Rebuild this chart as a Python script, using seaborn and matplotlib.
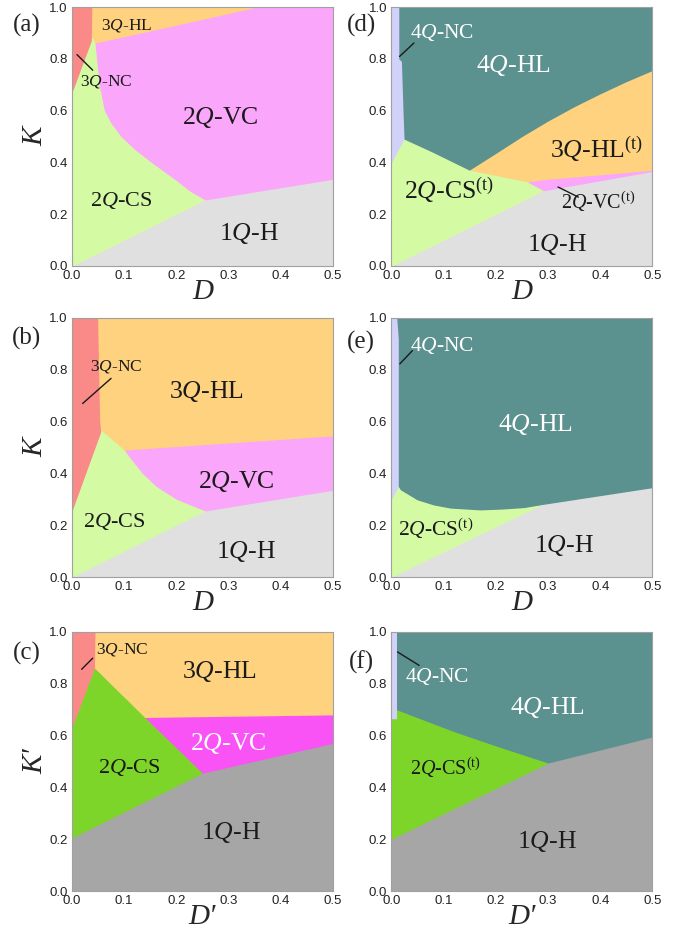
import numpy as np
import matplotlib.pyplot as plt
import seaborn as sns

sns.set_theme(style="ticks")
plt.rcParams["font.family"] = ["Liberation Sans", "DejaVu Sans"]
plt.rcParams["mathtext.fontset"] = "custom"
plt.rcParams["mathtext.rm"] = "Liberation Serif"
plt.rcParams["mathtext.it"] = "Liberation Serif:italic"

SERIF = ["Liberation Serif", "DejaVu Serif"]

# phase colours
c_h = "#e0e0e0"      # 1Q-H
c_cs = "#d4fba4"     # 2Q-CS
c_vc = "#faa6fa"     # 2Q-VC
c_hl = "#fed27f"     # 3Q-HL
c_nc = "#f98a88"     # 3Q-NC
c_4hl = "#5b918e"    # 4Q-HL
c_4nc = "#d1d1f9"    # 4Q-NC
c_h2 = "#a6a6a6"     # 1Q-H (primed model)
c_cs2 = "#7ed52a"    # 2Q-CS (primed model)
c_vc2 = "#f953f5"    # 2Q-VC (primed model)

# ---- phase boundaries ----
# (a)
a_h_D = [0.0, 0.255, 0.5]
a_h_K = [0.0, 0.255, 0.335]
a_hl_D = [0.042, 0.20, 0.355]
a_hl_K = [0.86, 0.93, 1.0]
a_cs_K = [0.0, 0.255, 0.29, 0.33, 0.40, 0.45, 0.50, 0.55, 0.60, 0.70, 0.80, 0.86, 0.88]
a_cs_D = [0.255, 0.255, 0.225, 0.200, 0.152, 0.120, 0.094, 0.075, 0.062, 0.052, 0.047, 0.044, 0.040]
a_nc_K = [0.67, 0.87, 1.0]
a_nc_D = [0.0, 0.037, 0.038]

# (b)
b_h_D = [0.0, 0.255, 0.5]
b_h_K = [0.0, 0.255, 0.335]
b_vc_D = [0.10, 0.5]
b_vc_K = [0.49, 0.545]
b_cs_K = [0.0, 0.255, 0.30, 0.35, 0.40, 0.45, 0.49, 0.565]
b_cs_D = [0.255, 0.255, 0.200, 0.161, 0.135, 0.115, 0.100, 0.057]
b_nc_K = [0.255, 0.56, 0.60, 1.0]
b_nc_D = [0.0, 0.055, 0.053, 0.049]

# (c)
c_h_D = [0.0, 0.25, 0.5]
c_h_K = [0.205, 0.455, 0.57]
c_vc_D = [0.14, 0.5]
c_vc_K = [0.67, 0.68]
c_cs_K = [0.0, 0.455, 0.667, 0.861]
c_cs_D = [0.25, 0.25, 0.141, 0.043]
c_nc_K = [0.63, 0.861, 1.0]
c_nc_D = [0.0, 0.043, 0.044]

# (d)
d_h_D = [0.0, 0.29, 0.5]
d_h_K = [0.0, 0.29, 0.365]
d_hl_D = [0.149, 0.20, 0.25, 0.30, 0.35, 0.40, 0.45, 0.5]
d_hl_K = [0.37, 0.435, 0.50, 0.56, 0.615, 0.665, 0.712, 0.755]
d_vc_D = [0.26, 0.30, 0.40, 0.5]
d_vc_K = [0.325, 0.335, 0.352, 0.37]
d_cs_K = [0.0, 0.292, 0.325, 0.37, 0.44, 0.49]
d_cs_D = [0.29, 0.29, 0.26, 0.149, 0.078, 0.024]
d_nc_K = [0.40, 0.49, 0.60, 0.79, 0.80, 1.0]
d_nc_D = [0.0, 0.024, 0.022, 0.019, 0.014, 0.014]

# (e)
e_h_D = [0.0, 0.289, 0.5]
e_h_K = [0.0, 0.28, 0.345]
e_cs_D = [0.0, 0.013, 0.017, 0.049, 0.081, 0.113, 0.17, 0.209, 0.254, 0.289]
e_cs_K = [0.35, 0.35, 0.337, 0.298, 0.278, 0.266, 0.259, 0.262, 0.268, 0.28]
e_nc_K = [0.30, 0.35, 0.92, 1.0]
e_nc_D = [0.0, 0.013, 0.013, 0.010]

# (f)
f_h_D = [0.0, 0.3, 0.5]
f_h_K = [0.2, 0.494, 0.595]
f_cs_D = [0.0, 0.0096, 0.12, 0.20, 0.30]
f_cs_K = [0.70, 0.70, 0.615, 0.56, 0.494]
f_nc_K = [0.665, 1.0]
f_nc_D = [0.0096, 0.0096]

# ---- labels: (text, D, K, size, colour) ----
a_labels = [("3$Q$-HL", 0.105, 0.93, 12.5, "k"), ("3$Q$-NC", 0.066, 0.713, 12.5, "k"),
            ("2$Q$-VC", 0.284, 0.575, 18.5, "k"), ("2$Q$-CS", 0.094, 0.254, 16, "k"),
            ("1$Q$-H", 0.339, 0.125, 18.5, "k")]
b_labels = [("3$Q$-NC", 0.0845, 0.812, 12.5, "k"), ("3$Q$-HL", 0.257, 0.715, 18.5, "k"),
            ("2$Q$-VC", 0.315, 0.367, 18.5, "k"), ("2$Q$-CS", 0.081, 0.213, 16, "k"),
            ("1$Q$-H", 0.334, 0.097, 18.5, "k")]
c_labels = [("3$Q$-NC", 0.096, 0.931, 12.5, "k"), ("3$Q$-HL", 0.282, 0.847, 18.5, "k"),
            ("2$Q$-VC", 0.30, 0.571, 18.5, "white"), ("2$Q$-CS", 0.11, 0.475, 16, "k"),
            ("1$Q$-H", 0.304, 0.225, 18.5, "k")]
d_labels = [("4$Q$-NC", 0.0976, 0.903, 15.5, "white"), ("4$Q$-HL", 0.2326, 0.773, 18.5, "white"),
            ("3$Q$-HL$^{\\mathrm{(t)}}$", 0.393, 0.448, 18.5, "k"),
            ("2$Q$-CS$^{\\mathrm{(t)}}$", 0.11, 0.292, 18.5, "k"),
            ("2$Q$-VC$^{\\mathrm{(t)}}$", 0.396, 0.247, 14.5, "k"),
            ("1$Q$-H", 0.316, 0.084, 18.5, "k")]
e_labels = [("4$Q$-NC", 0.097, 0.894, 15.5, "white"), ("4$Q$-HL", 0.276, 0.589, 18.5, "white"),
            ("2$Q$-CS$^{\\mathrm{(t)}}$", 0.084, 0.188, 15.5, "k"),
            ("1$Q$-H", 0.33, 0.123, 18.5, "k")]
f_labels = [("4$Q$-NC", 0.0867, 0.83, 15.5, "white"), ("4$Q$-HL", 0.2985, 0.707, 18.5, "white"),
            ("2$Q$-CS$^{\\mathrm{(t)}}$", 0.104, 0.475, 14.5, "k"),
            ("1$Q$-H", 0.2985, 0.191, 18.5, "k")]

# leader lines ((D1, D2), (K1, K2))
a_lead = ([0.0096, 0.0397], [0.816, 0.756])
b_lead = ([0.0204, 0.0749], [0.670, 0.767])
c_lead = ([0.0185, 0.0397], [0.856, 0.899])
d_lead = [([0.0154, 0.043], [0.809, 0.861]), ([0.319, 0.358], [0.305, 0.266])]
e_lead = ([0.016, 0.040], [0.823, 0.874])
f_lead = ([0.0115, 0.053], [0.923, 0.871])


def fill_below(ax, D, K, color, lo=0.0, hi=0.5):
    x = np.linspace(lo, hi, 600)
    ax.fill_between(x, 0, np.minimum(np.interp(x, D, K), 1.0), color=color, lw=0)


def fill_left(ax, K, D, color, lo, hi):
    y = np.linspace(lo, hi, 600)
    ax.fill_betweenx(y, 0, np.interp(y, K, D), color=color, lw=0)


def style(ax, xlab, ylab, tag, tag_xy):
    ax.set_xlim(0, 0.5)
    ax.set_ylim(0, 1)
    ax.set_xticks(np.arange(0, 0.51, 0.1))
    ax.set_yticks(np.arange(0, 1.01, 0.2))
    ax.set_xticklabels([f"{v:.1f}" for v in np.arange(0, 0.51, 0.1)])
    ax.set_yticklabels([f"{v:.1f}" for v in np.arange(0, 1.01, 0.2)])
    ax.tick_params(direction="in", length=3, width=0.7, color="#666666",
                   labelsize=9.5, labelcolor="#222222", top=True, right=True, pad=3)
    for s in ax.spines.values():
        s.set_color("#a0a0a0")
        s.set_linewidth(0.8)
    ax.set_xlabel(xlab, family=SERIF, style="italic", fontsize=21, labelpad=-2)
    if ylab:
        ax.set_ylabel(ylab, family=SERIF, style="italic", fontsize=21, labelpad=1)
    fig.text(tag_xy[0] / 697, 1 - tag_xy[1] / 935, tag, family=SERIF, fontsize=18,
             ha="center", va="center")


def put_labels(ax, labels):
    for txt, x, y, fs, col in labels:
        ax.text(x, y, txt, family=SERIF, fontsize=fs, color=col, ha="center", va="center")


fig = plt.figure(figsize=(6.97, 9.35), dpi=100)
W = 261 / 697
H = 259 / 935
lefts = [72 / 697, 391.5 / 697]
bottoms = [1 - 266 / 935, 1 - 577 / 935, 1 - 891 / 935]
ax_a = fig.add_axes([lefts[0], bottoms[0], W, H])
ax_b = fig.add_axes([lefts[0], bottoms[1], W, H])
ax_c = fig.add_axes([lefts[0], bottoms[2], W, H])
ax_d = fig.add_axes([lefts[1], bottoms[0], W, H])
ax_e = fig.add_axes([lefts[1], bottoms[1], W, H])
ax_f = fig.add_axes([lefts[1], bottoms[2], W, H])

# (a)
ax_a.fill_between([0, 0.5], 0, 1, color=c_hl, lw=0)
fill_below(ax_a, a_hl_D, a_hl_K, c_vc, lo=a_hl_D[0])
fill_left(ax_a, a_cs_K, a_cs_D, c_cs, 0, a_cs_K[-1])
fill_left(ax_a, a_nc_K, a_nc_D, c_nc, a_nc_K[0], 1)
fill_below(ax_a, a_h_D, a_h_K, c_h)
put_labels(ax_a, a_labels)
ax_a.plot(*a_lead, color="k", lw=1)
style(ax_a, "D", "K", "(a)", (27, 25))

# (b)
ax_b.fill_between([0, 0.5], 0, 1, color=c_hl, lw=0)
fill_below(ax_b, b_vc_D, b_vc_K, c_vc, lo=b_vc_D[0])
fill_left(ax_b, b_cs_K, b_cs_D, c_cs, 0, b_cs_K[-1])
fill_left(ax_b, b_nc_K, b_nc_D, c_nc, b_nc_K[0], 1)
fill_below(ax_b, b_h_D, b_h_K, c_h)
put_labels(ax_b, b_labels)
ax_b.plot(*b_lead, color="k", lw=1)
style(ax_b, "D", "K", "(b)", (27, 338))

# (c)
ax_c.fill_between([0, 0.5], 0, 1, color=c_hl, lw=0)
fill_below(ax_c, c_vc_D, c_vc_K, c_vc2, lo=c_vc_D[0])
fill_left(ax_c, c_cs_K, c_cs_D, c_cs2, 0, c_cs_K[-1])
fill_left(ax_c, c_nc_K, c_nc_D, c_nc, c_nc_K[0], 1)
fill_below(ax_c, c_h_D, c_h_K, c_h2)
put_labels(ax_c, c_labels)
ax_c.plot(*c_lead, color="k", lw=1)
style(ax_c, "D\u2032", "K\u2032", "(c)", (27, 653))

# (d)
ax_d.fill_between([0, 0.5], 0, 1, color=c_4hl, lw=0)
fill_below(ax_d, d_hl_D, d_hl_K, c_hl, lo=d_hl_D[0])
fill_below(ax_d, d_vc_D, d_vc_K, c_vc, lo=d_vc_D[0])
fill_left(ax_d, d_cs_K, d_cs_D, c_cs, 0, d_cs_K[-1])
fill_left(ax_d, d_nc_K, d_nc_D, c_4nc, d_nc_K[0], 1)
fill_below(ax_d, d_h_D, d_h_K, c_h)
put_labels(ax_d, d_labels)
for xs, ys in d_lead:
    ax_d.plot(xs, ys, color="k", lw=1)
style(ax_d, "D", None, "(d)", (361, 25))

# (e)
ax_e.fill_between([0, 0.5], 0, 1, color=c_4hl, lw=0)
fill_below(ax_e, e_cs_D, e_cs_K, c_cs, lo=0, hi=e_cs_D[-1])
fill_left(ax_e, e_nc_K, e_nc_D, c_4nc, e_nc_K[0], 1)
fill_below(ax_e, e_h_D, e_h_K, c_h)
put_labels(ax_e, e_labels)
ax_e.plot(*e_lead, color="k", lw=1)
style(ax_e, "D", None, "(e)", (361, 342))

# (f)
ax_f.fill_between([0, 0.5], 0, 1, color=c_4hl, lw=0)
fill_below(ax_f, f_cs_D, f_cs_K, c_cs2, lo=0, hi=f_cs_D[-1])
fill_left(ax_f, f_nc_K, f_nc_D, c_4nc, f_nc_K[0], 1)
fill_below(ax_f, f_h_D, f_h_K, c_h2)
put_labels(ax_f, f_labels)
ax_f.plot(*f_lead, color="k", lw=1)
style(ax_f, "D\u2032", None, "(f)", (361, 662))

fig.savefig("out.png", dpi=100)
